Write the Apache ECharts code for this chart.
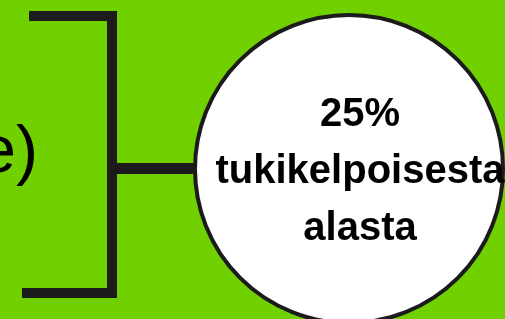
<!DOCTYPE html>
<html>
<head>
    <meta charset="utf-8">
    <title>tukikelpoisesta alasta</title>
    <script src="https://cdn.jsdelivr.net/npm/echarts@6/dist/echarts.min.js"></script>
    <style>
        html, body { margin: 0; padding: 0; background: #71d000; }
        #main { width: 505px; height: 319px; }
    </style>
</head>
<body>
    <div id="main"></div>
    <script>
        // tekstit
        var leftText = 'e)';
        var circleLines = ['25%', 'tukikelpoisesta', 'alasta'];

        var lineColor = '#1b1b1b';
        var chart = echarts.init(document.getElementById('main'));

        var option = {
            backgroundColor: '#71d000',
            animation: false,
            graphic: [
                // hakasulku
                {
                    type: 'polyline',
                    shape: { points: [[29, 16], [112, 16], [112, 293], [22, 293]] },
                    style: { stroke: lineColor, lineWidth: 10, fill: null, lineJoin: 'miter' }
                },
                {
                    type: 'line',
                    shape: { x1: 112, y1: 168.5, x2: 196, y2: 168.5 },
                    style: { stroke: lineColor, lineWidth: 11 }
                },
                {
                    type: 'text',
                    style: {
                        text: leftText, x: 38, y: 154, align: 'right', verticalAlign: 'middle',
                        font: '66px "Liberation Sans"', fill: '#000'
                    }
                },
                // ympyrä
                {
                    type: 'circle',
                    shape: { cx: 349, cy: 169, r: 154 },
                    style: { fill: '#fff', stroke: lineColor, lineWidth: 4 }
                },
                {
                    type: 'text',
                    style: {
                        text: circleLines.join('\n'), x: 360, y: 172, align: 'center', verticalAlign: 'middle',
                        font: 'bold 40px "Liberation Sans"', lineHeight: 57, fill: '#000'
                    }
                }
            ]
        };
        chart.setOption(option);
    </script>
</body>
</html>
